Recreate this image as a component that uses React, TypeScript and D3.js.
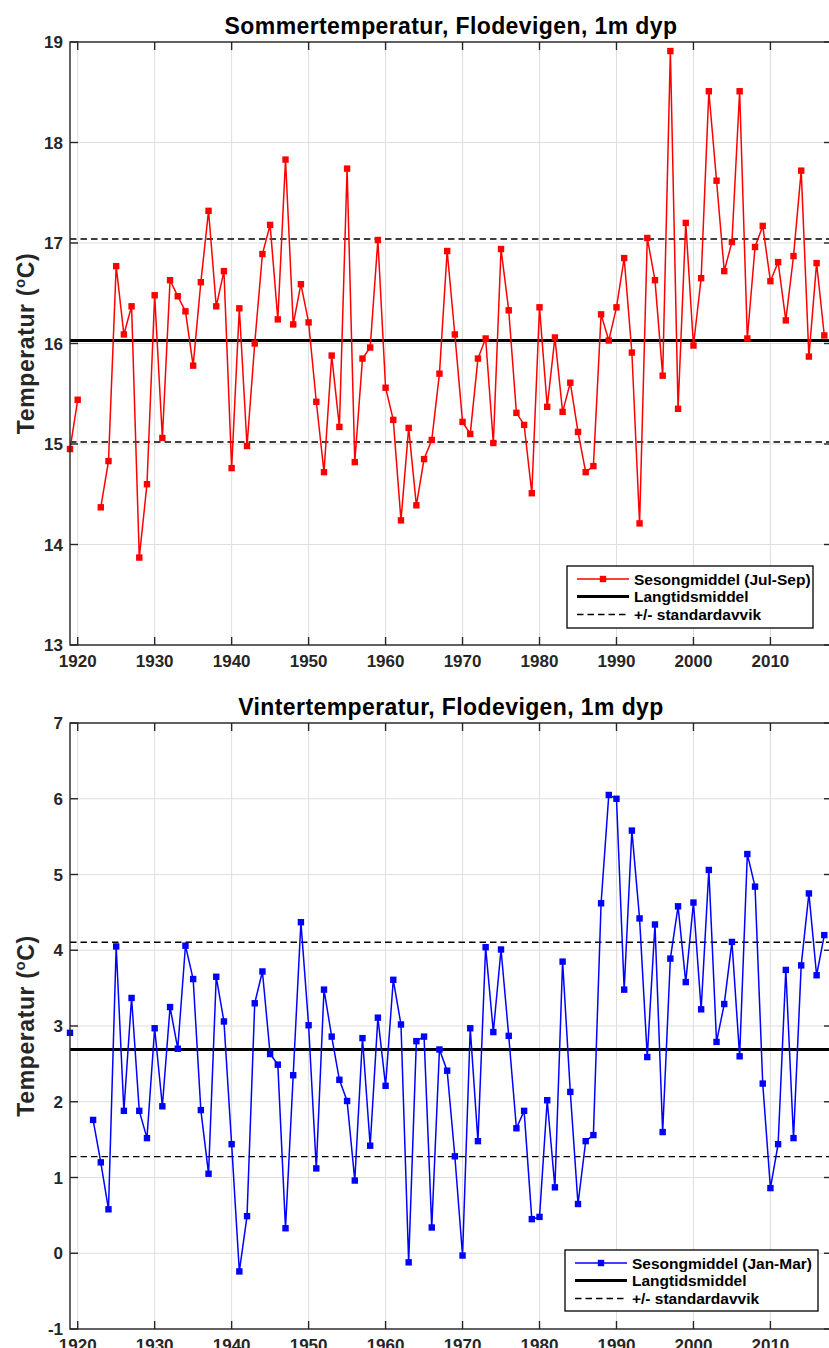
import React from "react";
import * as d3 from "d3";

// ---- Data ----
const firstYear = 1919;
const lastYear = 2017;

// Summer (Jul-Sep) season mean, 1919..2017 (null = missing)
const summerTemp: (number | null)[] = [
  14.95,
  15.44, null, null, 14.37, 14.83, 16.77, 16.09, 16.37, 13.87, 14.60,
  16.48, 15.06, 16.63, 16.47, 16.32, 15.78, 16.61, 17.32, 16.37, 16.72,
  14.76, 16.35, 14.98, 16.00, 16.89, 17.18, 16.24, 17.83, 16.19, 16.59,
  16.21, 15.42, 14.72, 15.88, 15.17, 17.74, 14.82, 15.85, 15.96, 17.03,
  15.56, 15.24, 14.24, 15.16, 14.39, 14.85, 15.04, 15.70, 16.92, 16.09,
  15.22, 15.10, 15.85, 16.05, 15.01, 16.94, 16.33, 15.31, 15.19, 14.51,
  16.36, 15.37, 16.06, 15.32, 15.61, 15.12, 14.72, 14.78, 16.29, 16.03,
  16.36, 16.85, 15.91, 14.21, 17.05, 16.63, 15.68, 18.91, 15.35, 17.20,
  15.98, 16.65, 18.51, 17.62, 16.72, 17.01, 18.51, 16.05, 16.96, 17.17,
  16.62, 16.81, 16.23, 16.87, 17.72, 15.87, 16.80, 16.08,
];

// Winter (Jan-Mar) season mean, 1919..2017
const winterTemp: (number | null)[] = [
  2.91,
  null, null, 1.76, 1.20, 0.58, 4.05, 1.88, 3.37, 1.88, 1.52,
  2.97, 1.94, 3.25, 2.70, 4.06, 3.62, 1.89, 1.05, 3.65, 3.06,
  1.44, -0.24, 0.49, 3.30, 3.72, 2.63, 2.49, 0.33, 2.35, 4.37,
  3.01, 1.12, 3.48, 2.86, 2.29, 2.01, 0.96, 2.84, 1.42, 3.11,
  2.21, 3.61, 3.02, -0.12, 2.80, 2.86, 0.34, 2.69, 2.41, 1.28,
  -0.03, 2.97, 1.48, 4.04, 2.92, 4.01, 2.87, 1.65, 1.88, 0.45,
  0.48, 2.02, 0.87, 3.85, 2.13, 0.65, 1.48, 1.56, 4.62, 6.05,
  6.00, 3.48, 5.58, 4.42, 2.59, 4.34, 1.60, 3.89, 4.58, 3.58,
  4.63, 3.22, 5.06, 2.79, 3.29, 4.11, 2.60, 5.27, 4.84, 2.24,
  0.86, 1.44, 3.74, 1.52, 3.80, 4.75, 3.67, 4.20,
];

const years = d3.range(firstYear, lastYear + 1);

const summerMean = 16.03;
const summerStd = 1.01;
const winterMean = 2.69;
const winterStd = 1.415;

const xTicks = [1920, 1930, 1940, 1950, 1960, 1970, 1980, 1990, 2000, 2010];
const summerYTicks = [13, 14, 15, 16, 17, 18, 19];
const winterYTicks = [-1, 0, 1, 2, 3, 4, 5, 6, 7];

const summerTitle = "Sommertemperatur, Flodevigen, 1m dyp";
const winterTitle = "Vintertemperatur, Flodevigen, 1m dyp";
const legendSummer = ["Sesongmiddel (Jul-Sep)", "Langtidsmiddel", "+/- standardavvik"];
const legendWinter = ["Sesongmiddel (Jan-Mar)", "Langtidsmiddel", "+/- standardavvik"];

const FONT = "'Liberation Sans', Arial, Helvetica, sans-serif";
const AXIS = "#262626";
const GRID = "#dedede";

type PanelProps = {
  top: number;
  bottom: number;
  yDomain: [number, number];
  yTicks: number[];
  values: (number | null)[];
  mean: number;
  std: number;
  color: string;
  title: string;
  legend: string[];
  legendBox: { x: number; y: number; w: number; h: number };
};

function Panel(p: PanelProps) {
  const left = 70;
  const right = 832;
  const x = d3.scaleLinear().domain([1919, 2018]).range([left, right]);
  const y = d3.scaleLinear().domain(p.yDomain).range([p.bottom, p.top]);
  const pts = years.map((yr, i) => ({ yr, v: p.values[i] }));
  const line = d3
    .line<{ yr: number; v: number | null }>()
    .defined((d) => d.v != null)
    .x((d) => x(d.yr))
    .y((d) => y(d.v as number));
  const tickLen = 8;
  const lb = p.legendBox;
  const rowY = [lb.y + 13, lb.y + 30.5, lb.y + 48.5];
  const ls0 = lb.x + 10;
  const ls1 = lb.x + 62;
  const cy = (p.top + p.bottom) / 2;
  return (
    <g>
      {/* grid */}
      {xTicks.map((t) => (
        <line key={"gx" + t} x1={x(t)} x2={x(t)} y1={p.top} y2={p.bottom} stroke={GRID} strokeWidth={1} />
      ))}
      {p.yTicks.map((t) => (
        <line key={"gy" + t} x1={left} x2={right} y1={y(t)} y2={y(t)} stroke={GRID} strokeWidth={1} />
      ))}
      {/* mean & std */}
      <line x1={left} x2={right} y1={y(p.mean)} y2={y(p.mean)} stroke="#000" strokeWidth={3} />
      <line x1={left} x2={right} y1={y(p.mean + p.std)} y2={y(p.mean + p.std)} stroke="#000" strokeWidth={1.4} strokeDasharray="6.5,4" />
      <line x1={left} x2={right} y1={y(p.mean - p.std)} y2={y(p.mean - p.std)} stroke="#000" strokeWidth={1.4} strokeDasharray="6.5,4" />
      {/* data */}
      <path d={line(pts) || ""} fill="none" stroke={p.color} strokeWidth={1.5} />
      {pts
        .filter((d) => d.v != null)
        .map((d) => (
          <rect key={"m" + d.yr} x={x(d.yr) - 3.2} y={y(d.v as number) - 3.2} width={6.4} height={6.4} fill={p.color} />
        ))}
      {/* axes box */}
      <rect x={left} y={p.top} width={right - left} height={p.bottom - p.top} fill="none" stroke={AXIS} strokeWidth={1.4} />
      {xTicks.map((t) => (
        <g key={"xt" + t}>
          <line x1={x(t)} x2={x(t)} y1={p.bottom} y2={p.bottom - tickLen} stroke={AXIS} strokeWidth={1.4} />
          <line x1={x(t)} x2={x(t)} y1={p.top} y2={p.top + tickLen} stroke={AXIS} strokeWidth={1.4} />
          <text x={x(t)} y={p.bottom + 22} textAnchor="middle" fontFamily={FONT} fontWeight="bold" fontSize={17} fill={AXIS}>
            {t}
          </text>
        </g>
      ))}
      {p.yTicks.map((t) => (
        <g key={"yt" + t}>
          <line x1={left} x2={left + tickLen} y1={y(t)} y2={y(t)} stroke={AXIS} strokeWidth={1.4} />
          <line x1={right} x2={right - tickLen} y1={y(t)} y2={y(t)} stroke={AXIS} strokeWidth={1.4} />
          <text x={left - 7} y={y(t)} dy="0.36em" textAnchor="end" fontFamily={FONT} fontWeight="bold" fontSize={17} fill={AXIS}>
            {t}
          </text>
        </g>
      ))}
      {/* title */}
      <text x={(left + right) / 2} y={p.top - 8} textAnchor="middle" fontFamily={FONT} fontWeight="bold" fontSize={23} letterSpacing={0.4} fill="#000">
        {p.title}
      </text>
      {/* y label */}
      <text
        transform={`translate(34,${cy}) rotate(-90)`}
        textAnchor="middle"
        fontFamily={FONT}
        fontWeight="bold"
        fontSize={23}
        letterSpacing={0.6}
        fill={AXIS}
      >
        Temperatur (
        <tspan fontSize={15} dy={-9}>o</tspan>
        <tspan dy={9}>C)</tspan>
      </text>
      {/* legend */}
      <rect x={lb.x} y={lb.y} width={lb.w} height={lb.h} fill="#fff" stroke="#000" strokeWidth={1.3} />
      <line x1={ls0} x2={ls1} y1={rowY[0]} y2={rowY[0]} stroke={p.color} strokeWidth={1.5} />
      <rect x={(ls0 + ls1) / 2 - 3.2} y={rowY[0] - 3.2} width={6.4} height={6.4} fill={p.color} />
      <line x1={ls0} x2={ls1} y1={rowY[1]} y2={rowY[1]} stroke="#000" strokeWidth={3} />
      <line x1={ls0} x2={ls1} y1={rowY[2]} y2={rowY[2]} stroke="#000" strokeWidth={1.4} strokeDasharray="6.5,4" />
      {p.legend.map((s, i) => (
        <text key={s} x={ls1 + 5} y={rowY[i]} dy="0.36em" fontFamily={FONT} fontWeight="bold" fontSize={15.5} fill="#000">
          {s}
        </text>
      ))}
    </g>
  );
}

export default function App() {
  return (
    <svg
      width={829}
      height={1348}
      style={{ position: "absolute", left: 0, top: 0, background: "#fff" }}
    >
      <rect x={0} y={0} width={829} height={1348} fill="#fff" />
      <Panel
        top={42}
        bottom={645}
        yDomain={[13, 19]}
        yTicks={summerYTicks}
        values={summerTemp}
        mean={summerMean}
        std={summerStd}
        color="#ff0000"
        title={summerTitle}
        legend={legendSummer}
        legendBox={{ x: 567, y: 566, w: 246, h: 62 }}
      />
      <Panel
        top={723}
        bottom={1329}
        yDomain={[-1, 7]}
        yTicks={winterYTicks}
        values={winterTemp}
        mean={winterMean}
        std={winterStd}
        color="#0000ff"
        title={winterTitle}
        legend={legendWinter}
        legendBox={{ x: 565, y: 1250, w: 253, h: 61 }}
      />
    </svg>
  );
}
